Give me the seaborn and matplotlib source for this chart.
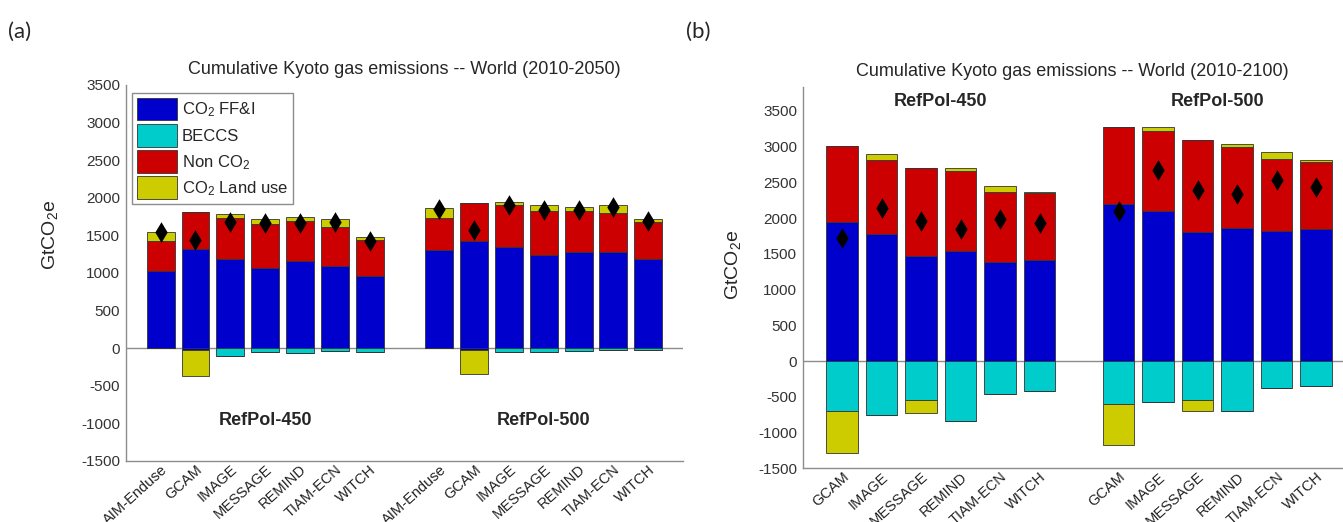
import numpy as np
import matplotlib
matplotlib.use("Agg")
import matplotlib.pyplot as plt
import seaborn as sns

# ---- data (GtCO2e) ----
models_a = ['AIM-Enduse', 'GCAM', 'IMAGE', 'MESSAGE', 'REMIND', 'TIAM-ECN', 'WITCH']
models_b = ['GCAM', 'IMAGE', 'MESSAGE', 'REMIND', 'TIAM-ECN', 'WITCH']
scenarios = ['RefPol-450', 'RefPol-500']

# panel (a): 2010-2050
a450_ffi = [1025, 1324, 1190, 1065, 1159, 1096, 954]
a450_non = [397, 490, 535, 580, 530, 517, 481]
a450_land = [129, 0, 58, 71, 49, 103, 45]
a450_ffi_neg = [0, -30, 0, 0, 0, 0, 0]
a450_beccs = [0, 0, -100, -55, -70, -40, -50]
a450_land_neg = [0, -340, 0, 0, 0, 0, 0]
a450_total = [1551, 1435, 1680, 1658, 1671, 1680, 1422]

a500_ffi = [1301, 1422, 1346, 1235, 1279, 1279, 1190]
a500_non = [433, 503, 557, 588, 544, 513, 490]
a500_land = [125, 0, 45, 80, 58, 116, 36]
a500_ffi_neg = [0, -30, 0, 0, 0, 0, 0]
a500_beccs = [0, 0, -50, -55, -40, -20, -20]
a500_land_neg = [0, -310, 0, 0, 0, 0, 0]
a500_total = [1850, 1569, 1903, 1836, 1836, 1881, 1694]

# panel (b): 2010-2100
b450_ffi = [1946, 1783, 1466, 1536, 1387, 1420]
b450_non = [1070, 1038, 1234, 1122, 973, 935]
b450_land = [0, 84, 0, 47, 84, 14]
b450_ffi_neg = [0, 0, 0, 0, 0, 0]
b450_beccs = [-695, -747, -546, -831, -453, -420]
b450_land_neg = [-584, 0, -182, 0, 0, 0]
b450_total = [1722, 2146, 1960, 1853, 1983, 1936]

b500_ffi = [2193, 2104, 1806, 1862, 1815, 1853]
b500_non = [1084, 1113, 1290, 1136, 1011, 935]
b500_land = [0, 55, 0, 46, 97, 24]
b500_ffi_neg = [0, 0, 0, 0, 0, 0]
b500_beccs = [-597, -574, -541, -695, -378, -350]
b500_land_neg = [-579, 0, -159, 0, 0, 0]
b500_total = [2095, 2681, 2388, 2332, 2528, 2435]

C_FFI = '#0000cc'
C_BECCS = '#00cccc'
C_NON = '#cc0000'
C_LAND = '#cccc00'
GREY = '#8c8c8c'

sns.set_theme(style='white')
plt.rcParams['font.family'] = ['Liberation Sans', 'DejaVu Sans']
plt.rcParams['mathtext.fontset'] = 'custom'
plt.rcParams['mathtext.rm'] = 'Liberation Sans'
plt.rcParams['mathtext.it'] = 'Liberation Sans'
plt.rcParams['axes.unicode_minus'] = False


def stacked(ax, x, ffi, non, land, ffi_neg, beccs, land_neg, total):
    ffi, non, land = np.array(ffi), np.array(non), np.array(land)
    ffi_neg, beccs, land_neg = np.array(ffi_neg), np.array(beccs), np.array(land_neg)
    kw = dict(width=0.8, edgecolor='#333333', linewidth=0.6)
    # positive stack
    ax.bar(x, ffi, color=C_FFI, **kw)
    ax.bar(x, non, bottom=ffi, color=C_NON, **kw)
    ax.bar(x, land, bottom=ffi + non, color=C_LAND, **kw)
    # negative stack
    ax.bar(x, ffi_neg, color=C_FFI, **kw)
    ax.bar(x, beccs, bottom=ffi_neg, color=C_BECCS, **kw)
    ax.bar(x, land_neg, bottom=ffi_neg + beccs, color=C_LAND, **kw)
    # net total as diamonds
    sns.scatterplot(x=x, y=total, marker='d', s=110, color='black',
                    linewidth=0, ax=ax, zorder=5, legend=False)


def style_axes(ax, ylim, xlim, ticks, labels):
    ax.set_ylim(*ylim)
    ax.set_xlim(*xlim)
    ax.set_yticks(np.arange(-1500, 3501, 500))
    ax.set_xticks(ticks)
    ax.set_xticklabels(labels, rotation=42, ha='right', rotation_mode='anchor',
                       fontsize=10.5, color='#222222')
    ax.tick_params(axis='y', labelsize=11, labelcolor='#333333', length=0, pad=4)
    ax.tick_params(axis='x', length=0, pad=1)
    for s in ['top', 'right']:
        ax.spines[s].set_visible(False)
    for s in ['left', 'bottom']:
        ax.spines[s].set_color(GREY)
        ax.spines[s].set_linewidth(1.0)
    ax.axhline(0, color=GREY, lw=1.0, zorder=0.5)
    ax.set_ylabel('GtCO$_2$e', fontsize=14)


fig = plt.figure(figsize=(13.43, 5.22), dpi=100)

# ---- panel (a) ----
ax_a = fig.add_axes([0.0937, 0.1169, 0.4149, 0.7203])
xa1 = np.arange(1, len(models_a) + 1)
xa2 = xa1 + len(models_a) + 1
stacked(ax_a, xa1, a450_ffi, a450_non, a450_land, a450_ffi_neg, a450_beccs, a450_land_neg, a450_total)
stacked(ax_a, xa2, a500_ffi, a500_non, a500_land, a500_ffi_neg, a500_beccs, a500_land_neg, a500_total)
style_axes(ax_a, (-1500, 3500), (0, 16), np.r_[xa1, xa2], models_a + models_a)
ax_a.yaxis.set_label_coords(-0.118, 0.6)
ax_a.set_title('Cumulative Kyoto gas emissions -- World (2010-2050)', fontsize=13, pad=8)
ax_a.text(xa1.mean(), -960, scenarios[0], ha='center', va='center', fontsize=13, fontweight='bold')
ax_a.text(xa2.mean(), -960, scenarios[1], ha='center', va='center', fontsize=13, fontweight='bold')

handles = [plt.Rectangle((0, 0), 1, 1, facecolor=c, edgecolor='#333333', linewidth=0.6)
           for c in [C_FFI, C_BECCS, C_NON, C_LAND]]
leg = ax_a.legend(handles, ['CO$_2$ FF&I', 'BECCS', 'Non CO$_2$', 'CO$_2$ Land use'],
                  loc='upper left', bbox_to_anchor=(0.011, 0.979), borderaxespad=0,
                  fontsize=12, handlelength=2.4, handleheight=1.7, labelspacing=0.22,
                  handletextpad=0.3, borderpad=0.3, fancybox=False, framealpha=1)
leg.get_frame().set_edgecolor(GREY)
leg.get_frame().set_linewidth(1.0)

# ---- panel (b) ----
ax_b = fig.add_axes([0.5976, 0.1025, 0.4024, 0.7308])
xb1 = np.arange(1, len(models_b) + 1)
xb2 = xb1 + len(models_b) + 1
stacked(ax_b, xb1, b450_ffi, b450_non, b450_land, b450_ffi_neg, b450_beccs, b450_land_neg, b450_total)
stacked(ax_b, xb2, b500_ffi, b500_non, b500_land, b500_ffi_neg, b500_beccs, b500_land_neg, b500_total)
style_axes(ax_b, (-1500, 3835), (0, 13.68), np.r_[xb1, xb2], models_b + models_b)
ax_b.yaxis.set_label_coords(-0.11, 0.533)
ax_b.set_title('Cumulative Kyoto gas emissions -- World (2010-2100)', fontsize=13, pad=8)
ax_b.text(xb1.mean(), 3630, scenarios[0], ha='center', va='center', fontsize=13, fontweight='bold')
ax_b.text(xb2.mean(), 3630, scenarios[1], ha='center', va='center', fontsize=13, fontweight='bold')

fig.text(0.006, 0.939, '(a)', fontsize=16, family=['Lato', 'DejaVu Sans'], va='center')
fig.text(0.511, 0.939, '(b)', fontsize=16, family=['Lato', 'DejaVu Sans'], va='center')

fig.savefig('out.png', dpi=100)
